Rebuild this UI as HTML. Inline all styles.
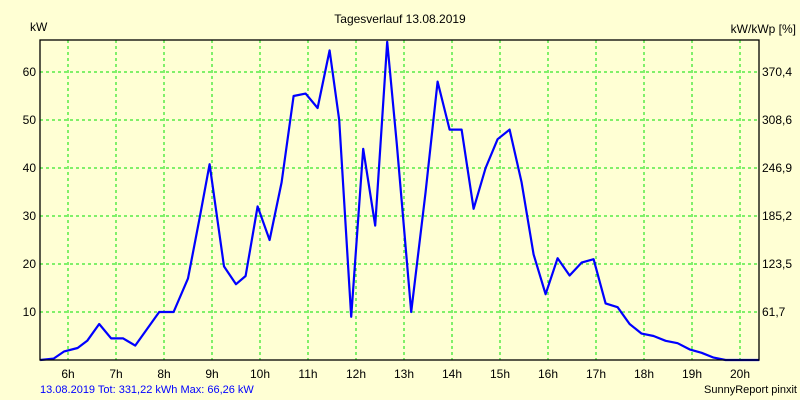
<!DOCTYPE html>
<html><head><meta charset="utf-8">
<style>
html,body{margin:0;padding:0;background:#ffffd4;}
svg{display:block;font-family:"Liberation Sans",sans-serif;}
</style></head>
<body>
<svg id="chart" width="800" height="400">
<rect x="0" y="0" width="800" height="400" fill="#ffffd4"/>
<text x="400" y="23" font-size="12" text-anchor="middle" fill="#000">Tagesverlauf 13.08.2019</text>
<text x="30" y="31" font-size="12" fill="#000">kW</text>
<text x="796" y="33" font-size="12" text-anchor="end" fill="#000">kW/kWp [%]</text>
<g id="grid"></g>
<g id="ticks"></g>
<polyline id="series" fill="none" stroke="#0000ff" stroke-width="2.2" stroke-linejoin="round"/>
<rect x="40" y="40" width="719" height="320" fill="none" stroke="#000" stroke-width="1.3"/>
<text x="40" y="393" font-size="11" fill="#0000ff">13.08.2019 Tot: 331,22 kWh Max: 66,26 kW</text>
<text x="797" y="393" font-size="11" text-anchor="end" fill="#000">SunnyReport pinxit</text>
</svg>
<script>
const hours = [6,7,8,9,10,11,12,13,14,15,16,17,18,19,20];
const yTicks = [10,20,30,40,50,60];
const rightLabels = ["61,7","123,5","185,2","246,9","308,6","370,4"];
const times = [5.42,5.7,5.92,6.2,6.4,6.65,6.9,7.15,7.4,7.9,8.2,8.5,8.75,8.95,9.25,9.5,9.7,9.95,10.2,10.45,10.7,10.95,11.2,11.45,11.65,11.9,12.15,12.4,12.65,12.85,13.15,13.45,13.7,13.95,14.2,14.45,14.7,14.95,15.2,15.45,15.7,15.95,16.2,16.45,16.7,16.95,17.2,17.45,17.7,17.95,18.2,18.45,18.7,18.95,19.2,19.45,19.7,20.0,20.4];
const power = [0,0.3,1.8,2.5,4,7.5,4.5,4.5,3,10,10,17,30,40.8,19.5,15.8,17.5,32,25,37,55,55.5,52.5,64.5,50,9,44,28,66.3,45,10,35,58,48,48,31.5,40,46,48,37,22,13.7,21.2,17.6,20.3,21,11.8,11,7.5,5.5,5,4,3.5,2.2,1.5,0.5,0,0,0];
const NS="http://www.w3.org/2000/svg";
function xs(h){return 68+(h-6)*48;}
function ys(v){return 360-v*4.8;}
const grid=document.getElementById('grid'), ticks=document.getElementById('ticks');
hours.forEach(h=>{
  const l=document.createElementNS(NS,'line');
  
  
  l.setAttribute('x1',xs(h));l.setAttribute('x2',xs(h));l.setAttribute('y1',40);l.setAttribute('y2',360);
  l.setAttribute('stroke','#00e000');l.setAttribute('stroke-dasharray','3,3');
  grid.appendChild(l);
  const t=document.createElementNS(NS,'text');
  
  
  t.setAttribute('x',xs(h));t.setAttribute('y',378);t.setAttribute('font-size','12');t.setAttribute('text-anchor','middle');
  t.textContent=h+'h';ticks.appendChild(t);
});
yTicks.forEach((v,i)=>{
  const l=document.createElementNS(NS,'line');
  
  
  l.setAttribute('x1',40);l.setAttribute('x2',759);l.setAttribute('y1',ys(v));l.setAttribute('y2',ys(v));
  l.setAttribute('stroke','#00e000');l.setAttribute('stroke-dasharray','3,3');
  grid.appendChild(l);
  const t=document.createElementNS(NS,'text');
  
  
  t.setAttribute('x',36);t.setAttribute('y',ys(v)+4);t.setAttribute('font-size','12');t.setAttribute('text-anchor','end');
  t.textContent=v;ticks.appendChild(t);
  const r=document.createElementNS(NS,'text');
  
  
  r.setAttribute('x',762);r.setAttribute('y',ys(v)+4);r.setAttribute('font-size','12');
  r.textContent=rightLabels[i];ticks.appendChild(r);
});
document.getElementById('series').setAttribute('points',times.map((t,i)=>xs(t).toFixed(1)+','+ys(power[i]).toFixed(1)).join(' '));
</script>
</body></html>
